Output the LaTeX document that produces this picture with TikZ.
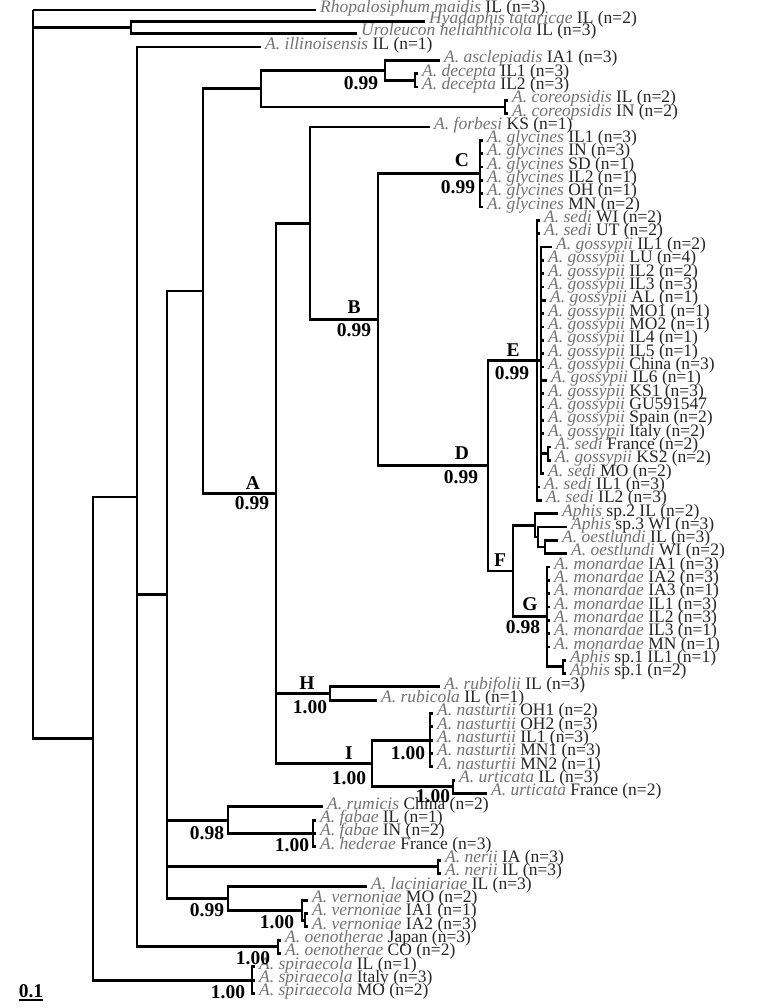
\documentclass[tikz,border=0pt]{standalone}
\usepackage{fontspec}
\setmainfont{Liberation Serif}
\newcommand{\tx}[2]{\textcolor{black!55}{\textit{#1}}\ \textcolor{black!85}{#2}}
\newcommand{\leaf}[6]{\coordinate (#2) at (#3,#4); \draw[br] (#1) |- (#2); \node[lf] (#2l) at ([xshift=4pt]#2) {\tx{#5}{#6}};}
\newcommand{\inode}[4]{\coordinate (#2) at (#3,#4); \draw[br] (#1) |- (#2);}
\begin{document}
\begin{tikzpicture}[x=1pt,y=-1pt,
  br/.style={line width=2.8pt},
  lf/.style={anchor=west, inner sep=0pt, font=\fontsize{17.5}{17.5}\selectfont, text height=0.7em, text depth=0.22em},
  cl/.style={inner sep=0pt, font=\fontsize{19.5}{20}\selectfont\bfseries}]
\useasboundingbox (0,0) rectangle (756,1008);
\fill[white] (0,0) rectangle (756,1008);
% root and outgroups
\coordinate (R) at (33,10);
\leaf{R}{t1}{316}{10}{Rhopalosiphum maidis}{IL (n=3)}
\inode{R}{HU}{131}{27.5}
\leaf{HU}{t2}{425}{21.5}{Hyadaphis tataricae}{IL (n=2)}
\leaf{HU}{t3}{357}{33.5}{Uroleucon helianthicola}{IL (n=3)}
\inode{R}{X4}{93}{738.5}
\inode{X4}{X3}{137}{496.9}
\leaf{X3}{t4}{261}{47}{A. illinoisensis}{IL (n=1)}
\inode{X3}{X2}{167}{594.7}
\inode{X2}{X1}{203}{291}
\inode{X1}{AC}{261}{88.7}
\inode{AC}{AD}{385}{70.3}
\leaf{AD}{t5}{440}{60.3}{A. asclepiadis}{IA1 (n=3)}
\inode{AD}{DE}{415}{80.3}
\leaf{DE}{t6}{418}{73.7}{A. decepta}{IL1 (n=3)}
\leaf{DE}{t7}{418}{87}{A. decepta}{IL2 (n=3)}
\inode{AC}{CO}{505}{107}
\leaf{CO}{t8}{508}{100.3}{A. coreopsidis}{IL (n=2)}
\leaf{CO}{t9}{508}{113.7}{A. coreopsidis}{IN (n=2)}
% clade A
\inode{X1}{A}{276}{493.4}
\inode{A}{FB}{310}{223.3}
\leaf{FB}{t10}{430}{127}{A. forbesi}{KS (n=1)}
\inode{FB}{B}{378}{319.6}
\inode{B}{C}{480}{173.6}
\leaf{C}{t11}{483}{140.3}{A. glycines}{IL1 (n=3)}
\leaf{C}{t12}{483}{153.6}{A. glycines}{IN (n=3)}
\leaf{C}{t13}{483}{167}{A. glycines}{SD (n=1)}
\leaf{C}{t14}{483}{180.3}{A. glycines}{IL2 (n=1)}
\leaf{C}{t15}{483}{193.6}{A. glycines}{OH (n=1)}
\leaf{C}{t16}{483}{207}{A. glycines}{MN (n=2)}
\inode{B}{D}{488}{465.6}
\inode{D}{E}{537}{360.3}
\leaf{E}{t17}{540}{220.3}{A. sedi}{WI (n=2)}
\leaf{E}{t18}{540}{233.6}{A. sedi}{UT (n=2)}
\inode{E}{GO}{541}{360.3}
\leaf{GO}{t19}{552}{247}{A. gossypii}{IL1 (n=2)}
\leaf{GO}{t20}{544}{260.3}{A. gossypii}{LU (n=4)}
\leaf{GO}{t21}{544}{273.6}{A. gossypii}{IL2 (n=2)}
\leaf{GO}{t22}{544}{286.9}{A. gossypii}{IL3 (n=3)}
\leaf{GO}{t23}{546}{300.3}{A. gossypii}{AL (n=1)}
\leaf{GO}{t24}{544}{313.6}{A. gossypii}{MO1 (n=1)}
\leaf{GO}{t25}{544}{326.9}{A. gossypii}{MO2 (n=1)}
\leaf{GO}{t26}{544}{340.3}{A. gossypii}{IL4 (n=1)}
\leaf{GO}{t27}{544}{353.6}{A. gossypii}{IL5 (n=1)}
\leaf{GO}{t28}{544}{366.9}{A. gossypii}{China (n=3)}
\leaf{GO}{t29}{547}{380.3}{A. gossypii}{IL6 (n=1)}
\leaf{GO}{t30}{544}{393.6}{A. gossypii}{KS1 (n=3)}
\leaf{GO}{t31}{544}{406.9}{A. gossypii}{GU591547}
\leaf{GO}{t32}{544}{420.2}{A. gossypii}{Spain (n=2)}
\leaf{GO}{t33}{544}{433.6}{A. gossypii}{Italy (n=2)}
\inode{GO}{SF}{548}{453.6}
\leaf{SF}{t34}{551}{446.9}{A. sedi}{France (n=2)}
\leaf{SF}{t35}{551}{460.2}{A. gossypii}{KS2 (n=2)}
\leaf{GO}{t36}{544}{473.6}{A. sedi}{MO (n=2)}
\leaf{E}{t37}{540}{486.9}{A. sedi}{IL1 (n=3)}
\leaf{E}{t38}{542}{500.2}{A. sedi}{IL2 (n=3)}
\inode{D}{F}{513}{571}
\inode{F}{N1}{535}{525.2}
\leaf{N1}{t39}{558}{513.6}{Aphis}{sp.2 IL (n=2)}
\inode{N1}{N2}{538}{536.9}
\leaf{N2}{t40}{567}{526.9}{Aphis}{sp.3 WI (n=3)}
\inode{N2}{N3}{545}{546.9}
\leaf{N3}{t41}{558}{540.2}{A. oestlundi}{IL (n=3)}
\leaf{N3}{t42}{567}{553.5}{A. oestlundi}{WI (n=2)}
\inode{F}{G}{547}{616.8}
\leaf{G}{t43}{550}{566.9}{A. monardae}{IA1 (n=3)}
\leaf{G}{t44}{550}{580.2}{A. monardae}{IA2 (n=3)}
\leaf{G}{t45}{550}{593.5}{A. monardae}{IA3 (n=1)}
\leaf{G}{t46}{550}{606.9}{A. monardae}{IL1 (n=3)}
\leaf{G}{t47}{550}{620.2}{A. monardae}{IL2 (n=3)}
\leaf{G}{t48}{550}{633.5}{A. monardae}{IL3 (n=1)}
\leaf{G}{t49}{550}{646.9}{A. monardae}{MN (n=1)}
\inode{G}{AS}{563}{666.8}
\leaf{AS}{t50}{566}{660.2}{Aphis}{sp.1 IL1 (n=1)}
\leaf{AS}{t51}{566}{673.5}{Aphis}{sp.1 (n=2)}
\inode{A}{H}{330}{693.5}
\leaf{H}{t52}{440}{686.8}{A. rubifolii}{IL (n=3)}
\leaf{H}{t53}{377}{700.2}{A. rubicola}{IL (n=1)}
\inode{A}{I}{372}{763.5}
\inode{I}{NA}{430}{740.2}
\leaf{NA}{t54}{433}{713.5}{A. nasturtii}{OH1 (n=2)}
\leaf{NA}{t55}{433}{726.8}{A. nasturtii}{OH2 (n=3)}
\leaf{NA}{t56}{433}{740.2}{A. nasturtii}{IL1 (n=3)}
\leaf{NA}{t57}{433}{753.5}{A. nasturtii}{MN1 (n=3)}
\leaf{NA}{t58}{433}{766.8}{A. nasturtii}{MN2 (n=1)}
\inode{I}{UR}{453}{786.8}
\leaf{UR}{t59}{455}{780.2}{A. urticata}{IL (n=3)}
\leaf{UR}{t60}{487}{793.5}{A. urticata}{France (n=2)}
% lower clades
\inode{X2}{RF}{228}{820.2}
\leaf{RF}{t61}{323}{806.8}{A. rumicis}{China (n=2)}
\inode{RF}{FA}{313}{833.5}
\leaf{FA}{t62}{316}{820.1}{A. fabae}{IL (n=1)}
\leaf{FA}{t63}{316}{833.5}{A. fabae}{IN (n=2)}
\leaf{FA}{t64}{316}{846.8}{A. hederae}{France (n=3)}
\inode{X2}{NE}{438}{866.8}
\leaf{NE}{t65}{441}{860.1}{A. nerii}{IA (n=3)}
\leaf{NE}{t66}{441}{873.5}{A. nerii}{IL (n=3)}
\inode{X2}{LV}{228}{898.4}
\leaf{LV}{t67}{367}{886.8}{A. laciniariae}{IL (n=3)}
\inode{LV}{VE}{302}{910.1}
\leaf{VE}{t68}{308}{900.1}{A. vernoniae}{MO (n=2)}
\inode{VE}{VI}{305}{920.1}
\leaf{VI}{t69}{308}{913.5}{A. vernoniae}{IA1 (n=1)}
\leaf{VI}{t70}{308}{926.8}{A. vernoniae}{IA2 (n=3)}
\inode{X3}{OE}{278}{946.8}
\leaf{OE}{t71}{281}{940.1}{A. oenotherae}{Japan (n=3)}
\leaf{OE}{t72}{281}{953.4}{A. oenotherae}{CO (n=2)}
\inode{X4}{SP}{252}{980.1}
\leaf{SP}{t73}{255}{966.8}{A. spiraecola}{IL (n=1)}
\leaf{SP}{t74}{255}{980.1}{A. spiraecola}{Italy (n=3)}
\leaf{SP}{t75}{255}{993.4}{A. spiraecola}{MO (n=2)}
% support values and clade letters
\node[cl] (s1) at (361,83) {0.99};
\node[cl] (kA) at (253,483) {A};
\node[cl] (sA) at (252,503) {0.99};
\node[cl] (kB) at (354,307) {B};
\node[cl] (sB) at (354,330) {0.99};
\node[cl] (kC) at (462,160) {C};
\node[cl] (sC) at (458,187) {0.99};
\node[cl] (kD) at (462,453) {D};
\node[cl] (sD) at (461,477) {0.99};
\node[cl] (kE) at (513,350) {E};
\node[cl] (sE) at (512,373) {0.99};
\node[cl] (kF) at (500,560) {F};
\node[cl] (kG) at (530,604) {G};
\node[cl] (sG) at (523,627) {0.98};
\node[cl] (kH) at (307,683) {H};
\node[cl] (sH) at (310,707) {1.00};
\node[cl] (kI) at (349,753) {I};
\node[cl] (sI) at (349,778) {1.00};
\node[cl] (sNA) at (408,753) {1.00};
\node[cl] (sUR) at (433,796) {1.00};
\node[cl] (sRF) at (207,833) {0.98};
\node[cl] (sFA) at (292,845) {1.00};
\node[cl] (sLV) at (207,910) {0.99};
\node[cl] (sVI) at (277,922) {1.00};
\node[cl] (sOE) at (253,958) {1.00};
\node[cl] (sSP) at (228,992) {1.00};
% scale bar
\node[cl] (scl) at (31,991) {0.1};
\draw[line width=1.5pt] ([yshift=-2pt]scl.south west) -- ([yshift=-2pt]scl.south east);
\end{tikzpicture}
\end{document}
